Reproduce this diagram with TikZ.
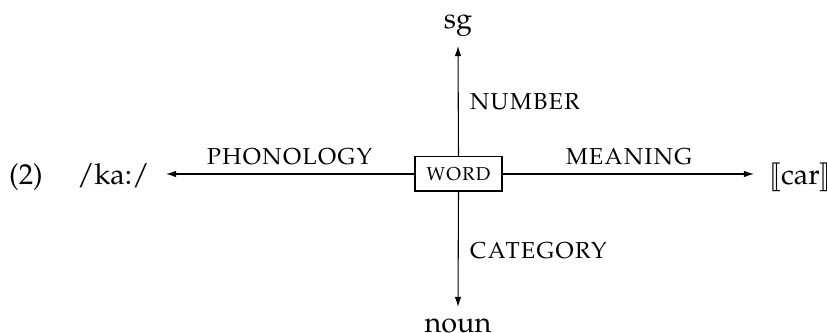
\documentclass[tikz,border=0pt]{standalone}
\usepackage[T1]{fontenc}
\usepackage{mathpazo}
\usepackage{stmaryrd}
\usetikzlibrary{arrows.meta}
\begin{document}
\begin{tikzpicture}[x=0.4167pt,y=-0.4167pt,
  txt/.style={font=\fontsize{12}{14}\selectfont, inner sep=0pt, anchor=base},
  lbl/.style={font=\fontsize{12}{14}\selectfont\scshape, inner sep=0pt, anchor=base},
  arr/.style={-{Latex[length=4.2pt,width=2.7pt]}, line width=0.45pt},
  wordbox/.style={draw, line width=0.45pt, font=\fontsize{9.7}{11}\selectfont\scshape,
    minimum width=36.25pt, minimum height=14.2pt, inner sep=0pt}]
\useasboundingbox (0,0) rectangle (827,333);
\node[wordbox] (word) at (458.5,174) {word};
\node[txt] (ex) at (26,185) {(2)};
\node[txt, anchor=base east] (ka) at (150,185) {/ka:/};
\node[txt, anchor=base west] (car) at (769,185) {$\llbracket$car$\rrbracket$};
\node[txt] (sg) at (458,29) {sg};
\node[txt] (noun) at (458,333) {noun};
\coordinate (tipL) at (166,174);
\coordinate (tipR) at (754,174);
\coordinate (tipU) at (458,46);
\coordinate (tipD) at (458,307);
\draw[arr] (word.west) -- (tipL);
\draw[arr] (word.east) -- (tipR);
\draw[arr] (word.north) -- (tipU);
\draw[arr] (word.south) -- (tipD);
\node[lbl] (phon) at (289.5,165) {phonology};
\node[lbl] (mean) at (629,165) {meaning};
\node[lbl, anchor=base west] (num) at (469,110) {number};
\node[lbl, anchor=base west] (cat) at (469,259) {category};
\end{tikzpicture}
\end{document}
